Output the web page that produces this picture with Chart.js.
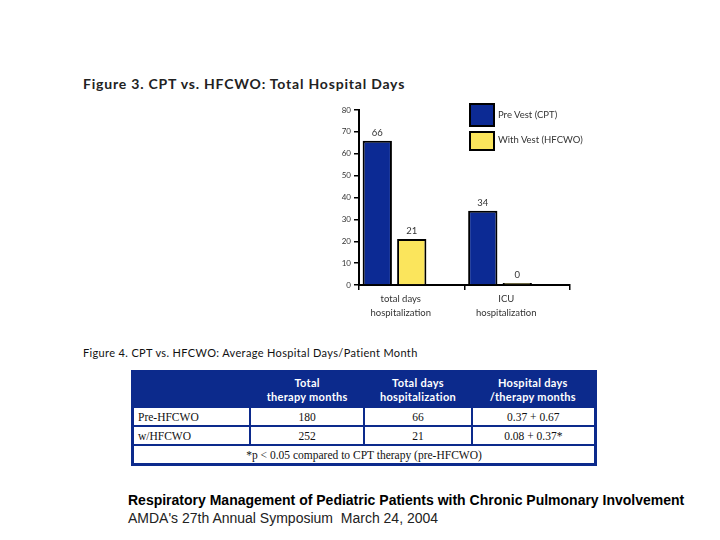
<!DOCTYPE html>
<html>
<head>
<meta charset="utf-8">
<script src="https://cdn.jsdelivr.net/npm/chart.js@4.4.0/dist/chart.umd.min.js"></script>
<style>
  body { margin: 0; width: 720px; height: 540px; background: #fff; position: relative; overflow: hidden; font-family: "Lato", sans-serif; }
  .cap1 { position: absolute; left: 83px; top: 75px; font: bold 14px "Lato", sans-serif; color: #222; letter-spacing: 0.8px; }
  .cap2 { position: absolute; left: 83px; top: 346px; font: 11px "Lato", sans-serif; color: #111; letter-spacing: 0.35px; }
  #chartBox { position: absolute; left: 320px; top: 95px; width: 270px; height: 230px; }
  .legend { position: absolute; left: 469px; font: 9.5px "Lato", sans-serif; color: #333; }
  .legend span.sw { position: absolute; left: 0; width: 22px; border: 2px solid #000; }
  .legend span.tx { position: absolute; left: 29px; white-space: nowrap; }
  table { position: absolute; left: 131px; top: 370px; width: 466px; border-collapse: collapse; border: 3px solid #0c2a8c; }
  th { background: #0c2a8c; color: #fff; font: bold 11px "Lato", sans-serif; line-height: 14px; height: 33px; padding: 0; letter-spacing: 0.3px; }
  td { border: 2px solid #0c2a8c; font: 11.5px "Liberation Serif", serif; color: #111; height: 17px; padding: 0 4px; text-align: center; }
  td.l { text-align: left; }
  .foot1 { position: absolute; left: 128px; top: 492px; font: bold 14px "Liberation Sans", Arial, sans-serif; color: #000; }
  .foot2 { position: absolute; left: 128px; top: 510px; font: 14px "Liberation Sans", Arial, sans-serif; color: #222; }
</style>
</head>
<body>
<div class="cap1">Figure 3. CPT vs. HFCWO: Total Hospital Days</div>
<div id="chartBox"><canvas id="hospChart" width="270" height="230"></canvas></div>
<div class="legend" style="top:103px"><span class="sw" style="height:20px;background:#0c2a94"></span><span class="tx" style="top:6px">Pre Vest (CPT)</span></div>
<div class="legend" style="top:131px"><span class="sw" style="height:16px;background:#fbe55c"></span><span class="tx" style="top:3px">With Vest (HFCWO)</span></div>

<div class="cap2">Figure 4. CPT vs. HFCWO: Average Hospital Days/Patient Month</div>
<table>
  <tr><th style="width:116px"></th><th>Total<br>therapy months</th><th>Total days<br>hospitalization</th><th>Hospital days<br>/therapy months</th></tr>
  <tr><td class="l">Pre-HFCWO</td><td>180</td><td>66</td><td>0.37 + 0.67</td></tr>
  <tr><td class="l">w/HFCWO</td><td>252</td><td>21</td><td>0.08 + 0.37*</td></tr>
  <tr><td colspan="4">*p &lt; 0.05 compared to CPT therapy (pre-HFCWO)</td></tr>
</table>

<div class="foot1">Respiratory Management of Pediatric Patients with Chronic Pulmonary Involvement</div>
<div class="foot2">AMDA's 27th Annual Symposium &nbsp;March 24, 2004</div>

<script>
// data
const categories = [['total days', 'hospitalization'], ['ICU', 'hospitalization']];
const preVest = [66, 34];
const withVest = [21, 0];
const yTicks = [0, 10, 20, 30, 40, 50, 60, 70, 80];

// numbers above the bars
const valueLabels = {
    id: 'valueLabels',
    afterDatasetsDraw(chart) {
        const ctx = chart.ctx;
        ctx.save();
        ctx.font = '9.5px Lato, sans-serif';
        ctx.fillStyle = '#333';
        ctx.textAlign = 'center';
        ctx.textBaseline = 'bottom';
        chart.data.datasets.forEach((ds, i) => {
            if (!ds.showValue) return;
            chart.getDatasetMeta(i).data.forEach((bar, j) => {
                ctx.fillText(ds.data[j], bar.x, bar.y - 3);
            });
        });
        ctx.restore();
    }
};

const ctx = document.getElementById('hospChart').getContext('2d');
new Chart(ctx, {
    type: 'bar',
    data: {
        labels: categories,
        datasets: [{
            label: 'Pre Vest (CPT)',
            data: preVest,
            backgroundColor: '#0c2a94',
            borderColor: '#000',
            borderWidth: 2,
            showValue: true
        }, {
            label: 'With Vest (HFCWO)',
            data: withVest,
            backgroundColor: '#fbe55c',
            borderColor: '#000',
            borderWidth: 2,
            minBarLength: 2,
            showValue: true
        }, {
            // empty slot, keeps the bar pair left of the category centre
            label: '',
            data: [null, null]
        }]
    },
    options: {
        responsive: false,
        animation: false,
        maintainAspectRatio: false,
        devicePixelRatio: 1,
        layout: { padding: { top: 15, right: 20, left: 0, bottom: 0 } },
        datasets: { bar: { categoryPercentage: 0.98, barPercentage: 0.85 } },
        plugins: { legend: { display: false }, tooltip: { enabled: false } },
        scales: {
            x: {
                afterFit: s => { s.height = 40; },
                border: { color: '#000', width: 2 },
                grid: { drawOnChartArea: false, color: '#000', tickLength: 5, lineWidth: 1.5, offset: true },
                ticks: { color: '#333', font: { family: 'Lato', size: 9.5, lineHeight: 1.45 }, labelOffset: -11, padding: 2, maxRotation: 0 }
            },
            y: {
                min: 0,
                max: 80,
                afterFit: s => { s.width = 39; },
                afterBuildTicks: s => { s.ticks = yTicks.map(v => ({ value: v })); },
                border: { color: '#000', width: 2 },
                grid: { drawOnChartArea: false, color: '#000', tickLength: 5, lineWidth: 1.5 },
                ticks: { color: '#333', font: { family: 'Lato', size: 8 }, padding: 3, autoSkip: false }
            }
        }
    },
    plugins: [valueLabels]
});
</script>
</body>
</html>
